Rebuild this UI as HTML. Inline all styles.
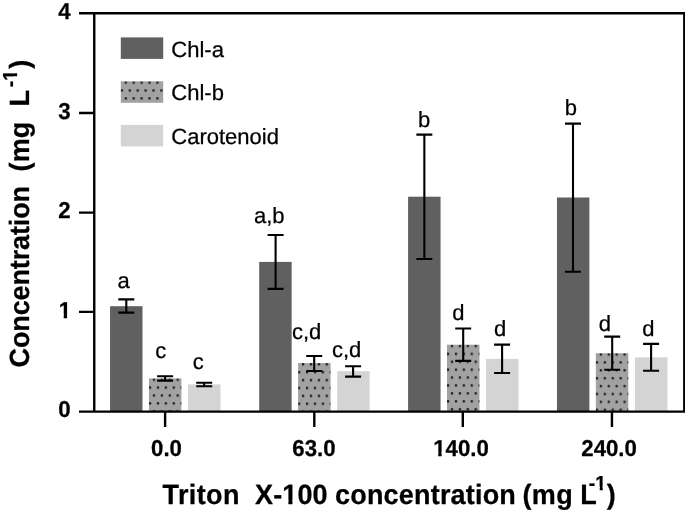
<!DOCTYPE html>
<html lang="en"><head><meta charset="utf-8"><title>Pigment concentration vs Triton X-100</title>
<style>html,body{margin:0;padding:0;background:#fff;}body{width:685px;height:514px;overflow:hidden;}svg{display:block;}text{font-family:"Liberation Sans",Arial,Helvetica,sans-serif;fill:#000;stroke:#000;stroke-width:0.25px;stroke-linejoin:round;text-rendering:geometricPrecision;}.tk{font-size:22.2px;font-weight:bold;}.lt{font-size:22px;}.ti{font-size:27.0px;font-weight:bold;}.su{font-size:19.5px;font-weight:bold;}</style></head><body>
<svg width="685" height="514" viewBox="0 0 685 514">
<defs>
<pattern id="dots" patternUnits="userSpaceOnUse" x="0" y="0" width="7.9" height="15.8"><rect width="7.9" height="15.8" fill="#a2a2a2"/><rect x="3.9" y="0.2" width="2.2" height="2.2" fill="#151515"/><rect x="0" y="8.1" width="2.2" height="2.2" fill="#151515"/></pattern>
<clipPath id="o1"><path clip-rule="evenodd" d="M-50 -60H400V40H-50Z M-1.00 -3.36H5.02V1.50H-1.00Z M8.39 -3.36H12.44V1.50H8.39Z"/></clipPath>
<clipPath id="o2"><path clip-rule="evenodd" d="M-50 -60H400V40H-50Z M26.20 -3.85H33.34V1.50H26.20Z M37.37 -3.85H42.31V1.50H37.37Z"/></clipPath>
<clipPath id="o3"><path clip-rule="evenodd" d="M-50 -60H400V40H-50Z M5.49 -3.09H10.89V1.50H5.49Z M13.88 -3.09H17.44V1.50H13.88Z"/></clipPath>
</defs>
<rect width="685" height="514" fill="#fff"/>
<rect x="110.05" y="306.20" width="32.45" height="105.40" fill="#606060"/>
<g transform="translate(148.95 378.40)"><rect x="0" y="0" width="32.45" height="33.20" fill="url(#dots)"/></g>
<rect x="188.05" y="384.40" width="32.45" height="27.20" fill="#d4d4d4"/>
<rect x="259.20" y="261.90" width="32.45" height="149.70" fill="#606060"/>
<g transform="translate(298.10 363.00)"><rect x="0" y="0" width="32.45" height="48.60" fill="url(#dots)"/></g>
<rect x="337.20" y="371.20" width="32.45" height="40.40" fill="#d4d4d4"/>
<rect x="408.10" y="196.70" width="32.45" height="214.90" fill="#606060"/>
<g transform="translate(447.00 344.70)"><rect x="0" y="0" width="32.45" height="66.90" fill="url(#dots)"/></g>
<rect x="486.10" y="358.90" width="32.45" height="52.70" fill="#d4d4d4"/>
<rect x="556.95" y="197.50" width="32.45" height="214.10" fill="#606060"/>
<g transform="translate(595.85 353.20)"><rect x="0" y="0" width="32.45" height="58.40" fill="url(#dots)"/></g>
<rect x="634.95" y="357.30" width="32.45" height="54.30" fill="#d4d4d4"/>
<rect x="120.8" y="37.40" width="42.4" height="21.5" fill="#606060"/>
<text class="lt" x="171.3" y="56.50">Chl-a</text>
<g transform="translate(120.8 81.30)"><rect width="42.4" height="21.5" fill="url(#dots)"/></g>
<text class="lt" x="171.3" y="100.40">Chl-b</text>
<rect x="120.8" y="124.90" width="42.4" height="21.5" fill="#d4d4d4"/>
<text class="lt" x="171.3" y="144.00">Carotenoid</text>
<g stroke="#000" stroke-width="2.1" fill="none">
<path d="M118.30 299.40H134.30M118.30 312.60H134.30M126.30 299.40V312.60"/>
<path d="M157.10 376.20H173.10M157.10 380.60H173.10M165.10 376.20V380.60"/>
<path d="M196.20 382.80H212.20M196.20 386.20H212.20M204.20 382.80V386.20"/>
<path d="M267.60 235.00H283.60M267.60 288.90H283.60M275.60 235.00V288.90"/>
<path d="M306.20 356.00H322.20M306.20 371.00H322.20M314.20 356.00V371.00"/>
<path d="M345.10 366.30H361.10M345.10 376.60H361.10M353.10 366.30V376.60"/>
<path d="M416.35 134.60H432.35M416.35 258.95H432.35M424.35 134.60V258.95"/>
<path d="M455.20 328.50H471.20M455.20 360.90H471.20M463.20 328.50V360.90"/>
<path d="M494.10 344.60H510.10M494.10 373.00H510.10M502.10 344.60V373.00"/>
<path d="M565.00 123.60H581.00M565.00 271.80H581.00M573.00 123.60V271.80"/>
<path d="M604.20 336.65H620.20M604.20 369.70H620.20M612.20 336.65V369.70"/>
<path d="M643.10 343.90H659.10M643.10 370.70H659.10M651.10 343.90V370.70"/>
</g>
<g stroke="#000" stroke-width="2.4" fill="none">
<path d="M79 13.25H685M79 411.6H685M94.25 12.05V412.8M684.3 12.05V412.8"/>
<path d="M79 113H94M79 212.6H94M79 311.9H94"/>
<path d="M165.1 411.6V427M314.3 411.6V427M462.8 411.6V427M611.95 411.6V427"/>
</g>
<text class="tk" transform="translate(58.20 18.90) scale(1 1.035)">4</text>
<text class="tk" transform="translate(58.20 118.70) scale(1 1.035)">3</text>
<text class="tk" transform="translate(58.20 218.10) scale(1 1.035)">2</text>
<text class="tk" transform="translate(58.70 318.10) scale(1 1.035)" clip-path="url(#o1)">1</text>
<text class="tk" transform="translate(58.20 417.10) scale(1 1.035)">0</text>
<text class="tk" transform="translate(151.10 455.80) scale(1 1.035)">0.0</text>
<text class="tk" transform="translate(292.30 455.80) scale(1 1.035)">63.0</text>
<text class="tk" transform="translate(433.20 455.80) scale(1 1.035)" clip-path="url(#o1)">140.0</text>
<text class="tk" transform="translate(581.30 455.80) scale(1 1.035)">240.0</text>
<text class="lt" transform="translate(117.60 288.30)">a</text>
<text class="lt" transform="translate(155.20 358.40)">c</text>
<text class="lt" transform="translate(192.80 368.50)">c</text>
<text class="lt" transform="translate(254.00 223.40)">a,b</text>
<text class="lt" transform="translate(292.00 338.90)">c,d</text>
<text class="lt" transform="translate(331.90 357.00)">c,d</text>
<text class="lt" transform="translate(418.05 126.85)">b</text>
<text class="lt" transform="translate(452.15 320.10)">d</text>
<text class="lt" transform="translate(494.05 336.40)">d</text>
<text class="lt" transform="translate(564.75 115.30)">b</text>
<text class="lt" transform="translate(598.75 330.50)">d</text>
<text class="lt" transform="translate(642.15 336.30)">d</text>
<text class="ti" transform="translate(162.60 503.90) scale(1 1.030)" letter-spacing="0.38">Triton</text>
<text class="ti" transform="translate(255.06 503.90) scale(1 1.030)" letter-spacing="0.10" clip-path="url(#o2)">X-100</text>
<text class="ti" transform="translate(335.05 503.90) scale(1 1.030)" letter-spacing="0.19">concentration</text>
<text class="ti" transform="translate(522.55 503.90) scale(1 1.030)" letter-spacing="0.30">(mg</text>
<text class="ti" transform="translate(580.20 503.90) scale(1 1.030)">L</text>
<text class="ti" transform="translate(606.67 503.90) scale(1 1.030)">)</text>
<text class="su" transform="translate(588.84 489.70) scale(1 1.040)" clip-path="url(#o3)">-1</text>
<g transform="translate(29.4 367) rotate(-90)">
<text class="ti" transform="translate(-0.40 0.00) scale(1 1.030)" letter-spacing="-0.13">Concentration</text>
<text class="ti" transform="translate(195.55 0.00) scale(1 1.030)" letter-spacing="0.10">(mg</text>
<text class="ti" transform="translate(260.50 0.00) scale(1 1.030)">L</text>
<text class="ti" transform="translate(298.27 0.00) scale(1 1.030)">)</text>
<text class="su" transform="translate(279.84 -12.30) scale(1 1.040)" clip-path="url(#o3)">-1</text>
</g>
</svg></body></html>
